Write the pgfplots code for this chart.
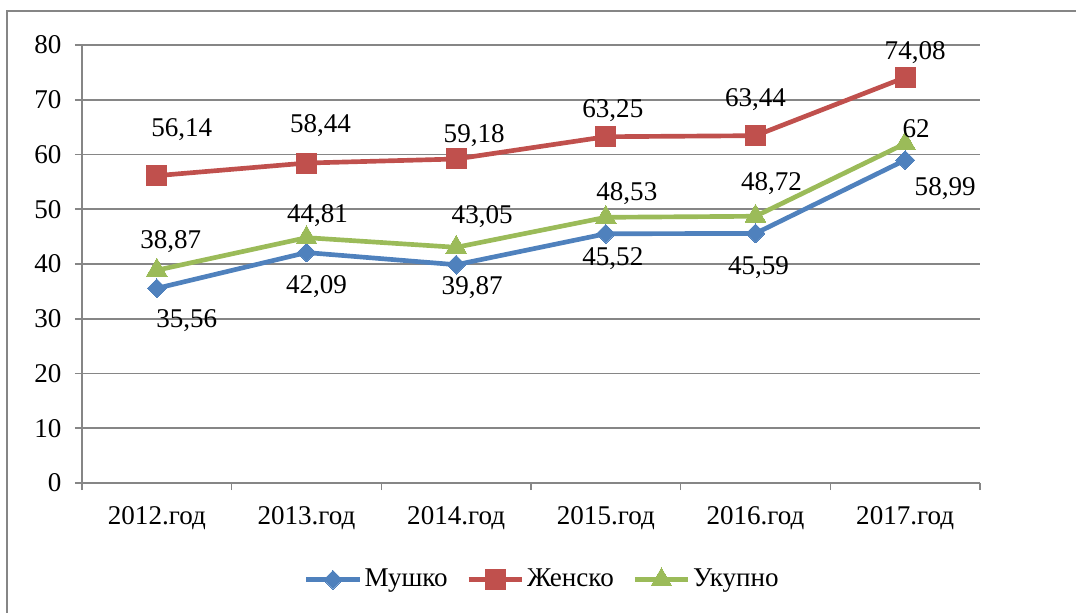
\documentclass[border=0pt]{standalone}
\usepackage{pgfplots}
\pgfplotsset{compat=1.18}
\usepackage{pgfplotstable}
\usepackage{fontspec}
\setmainfont{Liberation Serif}
\definecolor{cBlue}{HTML}{4F81BD}
\definecolor{cRed}{HTML}{C0504D}
\definecolor{cGreen}{HTML}{9BBB59}
\definecolor{cGrid}{HTML}{868686}

\pgfplotstableread{
x y lab dx dy
0 35.56 35,56 30 -32
1 42.09 42,09 10 -34
2 39.87 39,87 16 -23
3 45.52 45,52 7 -25
4 45.59 45,59 3 -34
5 58.99 58,99 40 -29
}\muski
\pgfplotstableread{
x y lab dx dy
0 56.14 56,14 25 46
1 58.44 58,44 14 37
2 59.18 59,18 18 23
3 63.25 63,25 7 26
4 63.44 63,44 0 36
5 74.08 74,08 10 25
}\zenski
\pgfplotstableread{
x y lab dx dy
0 38.87 38,87 14 29
1 44.81 44,81 11 22
2 43.05 43,05 26 31
3 48.53 48,53 21 24
4 48.72 48,72 16 33
5 62 62 11 15
}\ukupno

\newcommand{\cf}{\fontsize{20.3}{24}\selectfont}

\pgfplotsset{
  lbl/.style={
    forget plot, draw=none, mark=none,
    nodes near coords,
    point meta=explicit symbolic,
    visualization depends on={0.75*\thisrow{dx}\as\dx},
    visualization depends on={0.75*\thisrow{dy}\as\dy},
    every node near coord/.append style={font=\cf, text=black, anchor=center, inner sep=0pt,
       xshift=\dx pt, yshift=\dy pt},
  }
}

\begin{document}
\cf
\begin{tikzpicture}[font=\cf]
\useasboundingbox (0pt,0pt) rectangle (807pt,459pt);
\draw[cGrid, line width=1.4pt] (5.25pt,-20pt) rectangle (830pt,450.75pt);
\begin{axis}[
  at={(61.5pt,96.75pt)}, anchor=south west,
  width=673.5pt, height=328.5pt, scale only axis,
  xmin=-0.5, xmax=5.5, ymin=0, ymax=80,
  ytick={0,10,...,80},
  xtick={-0.5,0.5,...,5.5},
  x tick label as interval,
  xticklabels={2012.год,2013.год,2014.год,2015.год,2016.год,2017.год},
  axis x line*=bottom, axis y line*=left,
  axis line style={cGrid, line width=1.2pt},
  ymajorgrids, grid style={cGrid, line width=1.2pt},
  tick align=outside, major tick length=5.25pt,
  tick style={cGrid, line width=1.2pt},
  /pgf/number format/assume math mode=true,
  ticklabel style={font=\cf, text=black},
  yticklabel style={anchor=east, inner sep=0pt, xshift=-10pt},
  xticklabel style={anchor=base, inner sep=0pt, yshift=-26pt},
  legend style={draw=none, fill=none, at={(0.513,-0.221)}, anchor=center,
     legend columns=3, font=\cf,
     /tikz/every even column/.append style={column sep=12pt}},
  legend image code/.code={\draw[mark repeat=2,mark phase=2,#1] plot coordinates {(0pt,0pt) (20pt,0pt) (40pt,0pt)};},
]
\addplot[cBlue, line width=3.5pt, mark=square*, mark size=5pt, mark options={rotate=45, solid, fill=cBlue, line width=0pt}]
  table[x=x, y=y] {\muski};
\addlegendentry{Мушко}
\addplot[cRed, line width=3.5pt, mark=square*, mark size=7.5pt, mark options={solid, fill=cRed, line width=0pt}]
  table[x=x, y=y] {\zenski};
\addlegendentry{Женско}
\addplot[cGreen, line width=3.5pt, mark=triangle*, mark size=9pt, mark options={solid, fill=cGreen, line width=0pt}]
  table[x=x, y=y] {\ukupno};
\addlegendentry{Укупно}
\addplot[lbl] table[x=x, y=y, meta=lab] {\muski};
\addplot[lbl] table[x=x, y=y, meta=lab] {\zenski};
\addplot[lbl] table[x=x, y=y, meta=lab] {\ukupno};
\end{axis}
\end{tikzpicture}
\end{document}
